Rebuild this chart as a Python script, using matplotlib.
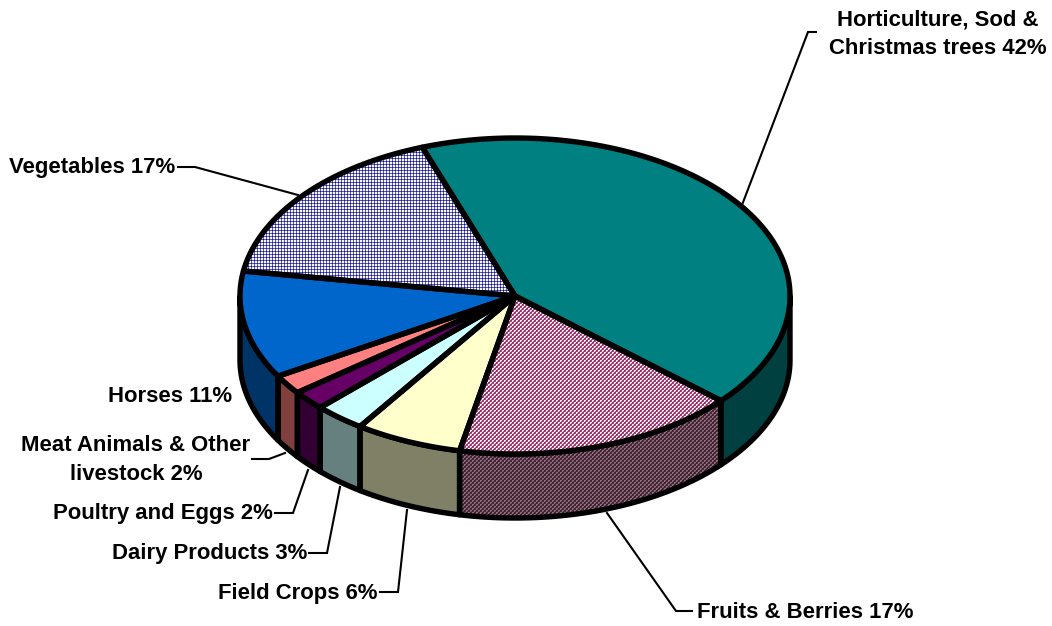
import numpy as np
import matplotlib
matplotlib.use("Agg")
import matplotlib.pyplot as plt
from matplotlib.colors import to_rgb
from matplotlib.patches import Polygon

plt.rcParams['font.family'] = ['Liberation Sans', 'DejaVu Sans']

categories = ["Horticulture, Sod &\nChristmas trees", "Fruits & Berries", "Field Crops",
              "Dairy Products", "Poultry and Eggs", "Meat Animals & Other\nlivestock",
              "Horses", "Vegetables"]
values = [42, 16.7, 6.3, 3, 2, 2, 11, 17]
top_colors = ["#008080", "#F6E6F0", "#FFFFCC", "#CCFFFF", "#660066", "#FF8080", "#0066CC", "#FFFFFF"]
side_colors = ["#004040", "#7A6A74", "#808066", "#668080", "#330033", "#804040", "#003366", "#808080"]
patterns = [None, "checker", None, None, None, None, None, "grid"]

CX, CY, RX, RY, DEPTH = 515.0, 296.0, 275.0, 158.0, 64.0
START = -19.7
OUT = 5.4 * 72 / 100
W, H = 1052, 626

fig = plt.figure(figsize=(W / 100, H / 100), dpi=100)
ax = fig.add_axes([0, 0, 1, 1])
ax.set_xlim(0, W)
ax.set_ylim(H, 0)
ax.axis("off")

def tile_image(cells):
    arr = np.array([[to_rgb(c) for c in row] for row in cells])
    n = arr.shape[0]
    return np.tile(arr, (H // n + 1, W // n + 1, 1))[:H, :W]

_w, _p, _m = "#F8ECF3", "#B0608A", "#993366"
_g, _n, _k = "#F4F4FB", "#5C5CB4", "#101088"
TEXTURES = {
    "checker": tile_image([[_w, _w, _m, _m], [_w, _p, _m, _p], [_m, _m, _w, _w], [_m, _p, _w, _p]]),
    "grid": tile_image([[_g, _g, _n], [_g, _g, _n], [_n, _n, _k]]),
}

def rim(a0, a1, dy=0.0):
    t = np.radians(np.linspace(a0, a1, max(int(abs(a1 - a0) * 2), 2)))
    return np.column_stack([CX + RX * np.sin(t), CY + dy - RY * np.cos(t)])

def add(pts, face, pattern=None, shade=1.0, z=2):
    poly = Polygon(pts, closed=True, facecolor=face, edgecolor="none", zorder=z)
    ax.add_patch(poly)
    if pattern:
        im = ax.imshow(TEXTURES[pattern] * shade, extent=(0, W, H, 0), interpolation="nearest",
                       aspect="auto", zorder=z + 0.1)
        im.set_clip_path(poly)
    ax.add_patch(Polygon(pts, closed=True, facecolor="none", edgecolor="black", lw=OUT,
                         joinstyle="round", zorder=z + 0.5))

edges = START + np.cumsum([0] + values) * 3.6
for i in range(len(values)):
    a0, a1 = max(edges[i], 90), min(edges[i + 1], 270)
    if a1 > a0:
        add(np.vstack([rim(a0, a1), rim(a1, a0, DEPTH)]), side_colors[i], patterns[i], 0.5, 2)
for i in range(len(values)):
    add(np.vstack([[CX, CY], rim(edges[i], edges[i + 1])]), top_colors[i], patterns[i], 1.0, 3)
ax.set_xlim(0, W)
ax.set_ylim(H, 0)

leaders = [[(742, 205), (808, 32), (816, 32)],
           [(607, 513), (676, 611), (692, 611)],
           [(407, 510), (398, 592), (380, 592)],
           [(340, 487), (327, 553), (309, 553)],
           [(308, 470), (293, 513), (275, 513)],
           [(285, 453), (269, 459), (252, 459)],
           None,
           [(298, 195), (195, 167), (178, 167)]]
for L in leaders:
    if L:
        xs, ys = zip(*L)
        ax.plot(xs, ys, color="black", lw=1.5, solid_joinstyle="miter", zorder=1)

places = [(938, 34, "center"), (697, 612, "left"), (378, 593, "right"), (307, 553, "right"),
          (273, 514, "right"), (136, 460, "center"), (232, 396, "right"), (175, 167, "right")]
for name, v, (x, y, ha) in zip(categories, values, places):
    ax.text(x, y, f"{name} {round(v)}%", ha=ha, va="center", fontsize=15.9, fontweight="bold",
            color="black", linespacing=1.47, multialignment="center", zorder=5)

fig.savefig("out.png", dpi=100, facecolor="white")
